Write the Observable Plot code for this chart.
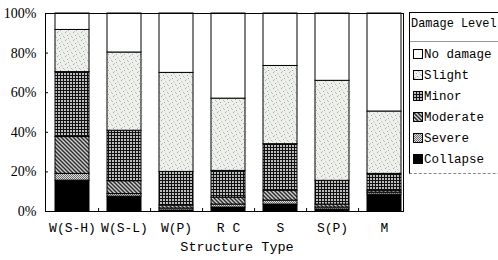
<!DOCTYPE html>
<html><head><meta charset="utf-8">
<script src="https://cdn.jsdelivr.net/npm/d3@7"></script>
<script src="https://cdn.jsdelivr.net/npm/@observablehq/plot@0.6"></script>
<style>
html,body{margin:0;padding:0;background:#fff;}
#wrap{position:relative;width:498px;height:260px;overflow:hidden;}
#wrap svg.chart{position:absolute;left:0;top:0;}
#xlabel{position:absolute;left:0;width:474px;top:239px;text-align:center;font:13.5px "Liberation Mono",monospace;color:#000;line-height:18px;}
#legend{position:absolute;left:409px;top:12px;width:120px;height:160px;border-left:1px solid #000;border-top:1px solid #000;border-bottom:1px dashed #888;font:12.5px "Liberation Mono",monospace;color:#000;}
#legend .title{position:absolute;left:1px;top:2px;line-height:18px;font-size:11.9px;white-space:nowrap;}
#legend .sep{position:absolute;left:0;top:28px;width:120px;border-top:1px solid #999;}
#legend .row{position:absolute;left:3px;height:16px;line-height:16px;white-space:nowrap;}
#legend .row svg{vertical-align:middle;margin-right:1px;position:relative;top:-1px;}
</style>
</head><body>
<div id="wrap"></div>
<script>
const categories = ["W(S-H)","W(S-L)","W(P)","R C","S","S(P)","M"];
const levels = ["No damage","Slight","Minor","Moderate","Severe","Collapse"];
const noDamage = [8.3,19.7,30,43,26.5,34,49.5];
const slight   = [21.3,39.5,50,36.5,39.5,50.5,31.5];
const minor    = [32.8,25.5,17,13.5,23.5,12,8.5];
const moderate = [18.6,6.5,1.5,3.5,5,1.5,1];
const severe   = [3.4,1.3,1,1.5,2,1,1];
const collapse = [15.6,7.5,0.5,2,3.5,1,8.5];
const yTicks = [0,20,40,60,80,100];
const yTickLabels = ["0%","20%","40%","60%","80%","100%"];
const xAxisTitle = "Structure Type";
const legendTitle = "Damage Level";

const series = {"No damage": noDamage, "Slight": slight, "Minor": minor, "Moderate": moderate, "Severe": severe, "Collapse": collapse};
const stackOrder = levels.slice().reverse();
const data = stackOrder.flatMap(level => categories.map((c, i) => ({category: c, level, value: series[level][i]})));
const patIds = ["pat-none","pat-slight","pat-minor","pat-moderate","pat-severe","pat-collapse"];
const fills = patIds.map(id => `url(#${id})`);

const plot = Plot.plot({
  width: 498, height: 260,
  marginLeft: 45, marginRight: 95, marginTop: 13, marginBottom: 49,
  style: {fontFamily: "Liberation Serif", fontSize: "14px", color: "#000", background: "transparent", overflow: "visible"},
  x: {domain: categories, range: [45, 410], paddingInner: 0.35, paddingOuter: 0.175, label: null},
  y: {domain: [0, 100], label: null},
  color: {domain: levels, range: fills},
  marks: [
    Plot.barY(data, Plot.stackY({x: "category", y: "value", fill: "level", z: "level", order: stackOrder, stroke: "#000", strokeWidth: 1})),
    Plot.frame({stroke: "#000"}),
    Plot.axisY({ticks: yTicks, tickFormat: d => yTickLabels[yTicks.indexOf(d)], tickSize: -3, tickPadding: 12, fontFamily: "Liberation Serif", fontSize: 14, label: null}),
    Plot.axisX({tickSize: 0, tickPadding: 11, fontFamily: "Liberation Mono", fontSize: 13, label: null}),
    Plot.ruleX(categories.slice(0, -1), {x: d => d, y1: 0, y2: 1.5, dx: 26.07, stroke: "#000"})
  ]
});
plot.classList.add("chart");

const ns = "http://www.w3.org/2000/svg";
const defs = document.createElementNS(ns, "defs");
defs.innerHTML = `
<pattern id="pat-none" patternUnits="userSpaceOnUse" width="4" height="4"><rect width="4" height="4" fill="#fff"/></pattern>
<pattern id="pat-slight" patternUnits="userSpaceOnUse" width="8" height="8">
  <rect width="8" height="8" fill="#eef0ec"/>
  <rect x="1" y="0" width="1" height="1" fill="#a3a7a0"/>
  <rect x="5" y="1" width="1" height="1" fill="#bcc0b9"/>
  <rect x="3" y="3" width="1" height="1" fill="#a3a7a0"/>
  <rect x="7" y="4" width="1" height="1" fill="#b1b5ae"/>
  <rect x="0" y="5" width="1" height="1" fill="#bcc0b9"/>
  <rect x="4" y="6" width="1" height="1" fill="#a3a7a0"/>
  <rect x="2" y="7" width="1" height="1" fill="#c3c7c0"/>
  <rect x="6" y="2" width="1" height="1" fill="#d0d4cd"/>
</pattern>
<pattern id="pat-minor" patternUnits="userSpaceOnUse" width="3" height="3">
  <rect width="3" height="3" fill="#bdbdbd"/>
  <rect width="3" height="1" fill="#111"/>
  <rect width="1" height="3" fill="#111"/>
</pattern>
<pattern id="pat-moderate" patternUnits="userSpaceOnUse" width="4" height="4">
  <rect width="4" height="4" fill="#cfcfcf"/>
  <path d="M-1,-1L5,5M-1,3L1,5M3,-1L5,1" stroke="#2a2a2a" stroke-width="1.4"/>
</pattern>
<pattern id="pat-severe" patternUnits="userSpaceOnUse" width="2" height="2">
  <rect width="2" height="2" fill="#e2e2e2"/>
  <rect width="1" height="1" fill="#6a6a6a"/>
  <rect x="1" y="1" width="1" height="1" fill="#6a6a6a"/>
</pattern>
<pattern id="pat-collapse" patternUnits="userSpaceOnUse" width="4" height="4"><rect width="4" height="4" fill="#000"/></pattern>`;
plot.insertBefore(defs, plot.firstChild);

const wrap = document.getElementById("wrap");
wrap.appendChild(plot);

const xl = document.createElement("div");
xl.id = "xlabel";
xl.textContent = xAxisTitle;
wrap.appendChild(xl);

const color = plot.scale("color");
const lg = document.createElement("div");
lg.id = "legend";
lg.innerHTML = `<div class="title">${legendTitle}</div><div class="sep"></div>`;
levels.forEach((lv, i) => {
  const row = document.createElement("div");
  row.className = "row";
  row.style.top = (34 + i * 21) + "px";
  row.innerHTML = `<svg width="10" height="10"><rect x="0.5" y="0.5" width="9" height="9" fill="${color.apply(lv)}" stroke="#000" stroke-width="1"/></svg>${lv}`;
  lg.appendChild(row);
});
wrap.appendChild(lg);
</script>
</body></html>
